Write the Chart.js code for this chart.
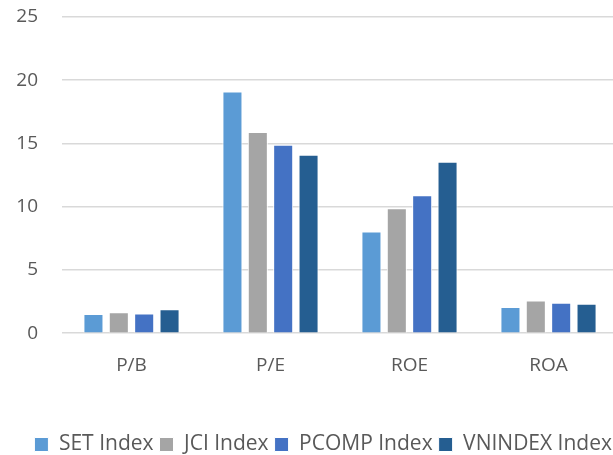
<!DOCTYPE html>
<html>
<head>
<meta charset="utf-8">
<script src="https://cdn.jsdelivr.net/npm/chart.js@4/dist/chart.umd.min.js"></script>
<style>
html,body{margin:0;padding:0;background:#fff;overflow:hidden;}
#wrap{width:613px;height:455px;position:relative;overflow:hidden;}
</style>
</head>
<body>
<div id="wrap"><canvas id="c" width="651" height="455"></canvas></div>
<script>
const categories = ["P/B", "P/E", "ROE", "ROA"];
const seriesNames = ["SET Index", "JCI Index", "PCOMP Index", "VNINDEX Index"];
const setIndex = [1.52, 19.1, 8.05, 2.08];
const jciIndex = [1.65, 15.9, 9.87, 2.59];
const pcompIndex = [1.55, 14.9, 10.9, 2.4];
const vnIndex = [1.89, 14.1, 13.55, 2.32];
const yTicks = [0, 5, 10, 15, 20, 25];

const colors = ["#5B9BD5", "#A5A5A5", "#4472C4", "#255E91"];
const values = [setIndex, jciIndex, pcompIndex, vnIndex];
const FONT = "'Open Sans', sans-serif";

new Chart(document.getElementById('c'), {
  type: 'bar',
  data: {
    labels: categories,
    datasets: seriesNames.map((n, i) => ({
      label: n,
      data: values[i],
      backgroundColor: colors[i],
      borderColor: '#ffffff',
      borderWidth: 1,
      categoryPercentage: 0.73,
      barPercentage: 0.79
    }))
  },
  options: {
    responsive: false,
    animation: false,
    layout: { padding: { top: 17, right: 33, left: 0, bottom: -10 } },
    scales: {
      x: {
        grid: { display: false, drawTicks: false },
        border: { display: false },
        ticks: { color: '#595959', font: { family: FONT, size: 19 }, padding: 21 },
        afterFit: s => { s.height += 30; s.paddingLeft = 0; s.paddingRight = 0; }
      },
      y: {
        min: 0, max: 25,
        afterBuildTicks: s => { s.ticks = yTicks.map(v => ({ value: v })); },
        afterFit: s => { s.width = 62; s.paddingTop = 0; s.paddingBottom = 0; },
        grid: { color: '#D9D9D9', lineWidth: 1.5, drawTicks: false },
        border: { display: false },
        ticks: { color: '#595959', font: { family: FONT, size: 19 }, padding: 24 }
      }
    },
    plugins: {
      tooltip: { enabled: false },
      legend: {
        position: 'bottom',
        align: 'end',
        labels: {
          color: '#595959',
          font: { family: FONT, size: 21 },
          boxWidth: 14, boxHeight: 14,
          padding: 6
        }
      }
    }
  }
});
</script>
</body>
</html>
